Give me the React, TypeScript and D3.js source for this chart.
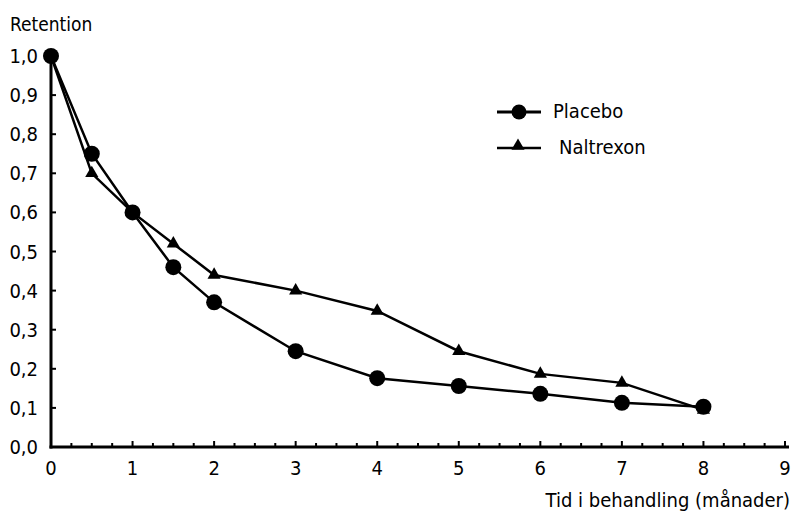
import React from "react";
import * as d3 from "d3";

const months = [0, 0.5, 1, 1.5, 2, 3, 4, 5, 6, 7, 8];
const placebo = [1.0, 0.75, 0.6, 0.46, 0.37, 0.245, 0.176, 0.156, 0.136, 0.113, 0.103];
const naltrexon = [1.0, 0.7, 0.6, 0.52, 0.44, 0.4, 0.348, 0.245, 0.187, 0.164, 0.095];
const yTicks = [0, 0.1, 0.2, 0.3, 0.4, 0.5, 0.6, 0.7, 0.8, 0.9, 1.0];
const xTicks = [0, 1, 2, 3, 4, 5, 6, 7, 8, 9];
const seriesNames = ["Placebo", "Naltrexon"];

const width = 795;
const height = 512;
const font = "'DejaVu Sans Condensed', 'DejaVu Sans', sans-serif";

const App = () => {
  const xScale = d3.scaleLinear().domain([0, 9]).range([51, 785]);
  const yScale = d3.scaleLinear().domain([0, 1]).range([447, 56]);

  const line = d3
    .line<number>()
    .x((_, i) => xScale(months[i]))
    .y((d) => yScale(d));

  const triangle = d3.symbol().type(d3.symbolTriangle).size(75)();
  const minorTicks = d3.range(0, 9.01, 0.25);

  return (
    <svg
      width={width}
      height={height}
      style={{ position: "absolute", left: 0, top: 0, background: "#fff" }}
      fontFamily={font}
      fontStretch="condensed"
    >
      <text x={10} y={31} fontSize={19}>Retention</text>

      {/* y axis */}
      <line x1={xScale(0)} x2={xScale(0)} y1={yScale(1) - 2} y2={yScale(0) + 1.5} stroke="#000" strokeWidth={3} />
      {yTicks.map((t) => (
        <g key={t}>
          <line x1={xScale(0)} x2={xScale(0) + 5} y1={yScale(t)} y2={yScale(t)} stroke="#000" strokeWidth={2} />
          <text x={38} y={yScale(t) + 7} fontSize={20} textAnchor="end">
            {t.toFixed(1).replace(".", ",")}
          </text>
        </g>
      ))}

      {/* x axis */}
      <line x1={xScale(0) - 1.5} x2={789} y1={yScale(0)} y2={yScale(0)} stroke="#000" strokeWidth={3} />
      {minorTicks.map((t) => (
        <line
          key={t}
          x1={xScale(t)}
          x2={xScale(t)}
          y1={yScale(0)}
          y2={yScale(0) - (Number.isInteger(t) ? 6 : 4)}
          stroke="#000"
          strokeWidth={2}
        />
      ))}
      {xTicks.map((t) => (
        <text key={t} x={xScale(t)} y={475} fontSize={20} textAnchor="middle">
          {t}
        </text>
      ))}
      <text x={790} y={507} fontSize={20} textAnchor="end">Tid i behandling (månader)</text>

      {/* series */}
      <path d={line(naltrexon) || ""} fill="none" stroke="#000" strokeWidth={2.5} />
      <path d={line(placebo) || ""} fill="none" stroke="#000" strokeWidth={2.5} />
      {naltrexon.map((v, i) => (
        <path key={"n" + i} d={triangle || ""} transform={`translate(${xScale(months[i])},${yScale(v)})`} fill="#000" />
      ))}
      {placebo.map((v, i) => (
        <circle key={"p" + i} cx={xScale(months[i])} cy={yScale(v)} r={8} fill="#000" />
      ))}

      {/* legend */}
      <g>
        <line x1={497} x2={541} y1={112} y2={112} stroke="#000" strokeWidth={3} />
        <circle cx={519} cy={112} r={7.5} fill="#000" />
        <text x={553} y={118} fontSize={20}>{seriesNames[0]}</text>
        <line x1={497} x2={541} y1={148} y2={148} stroke="#000" strokeWidth={2.5} />
        <path d={triangle || ""} transform="translate(518,146)" fill="#000" />
        <text x={559} y={154} fontSize={20}>{seriesNames[1]}</text>
      </g>
    </svg>
  );
};

export default App;
